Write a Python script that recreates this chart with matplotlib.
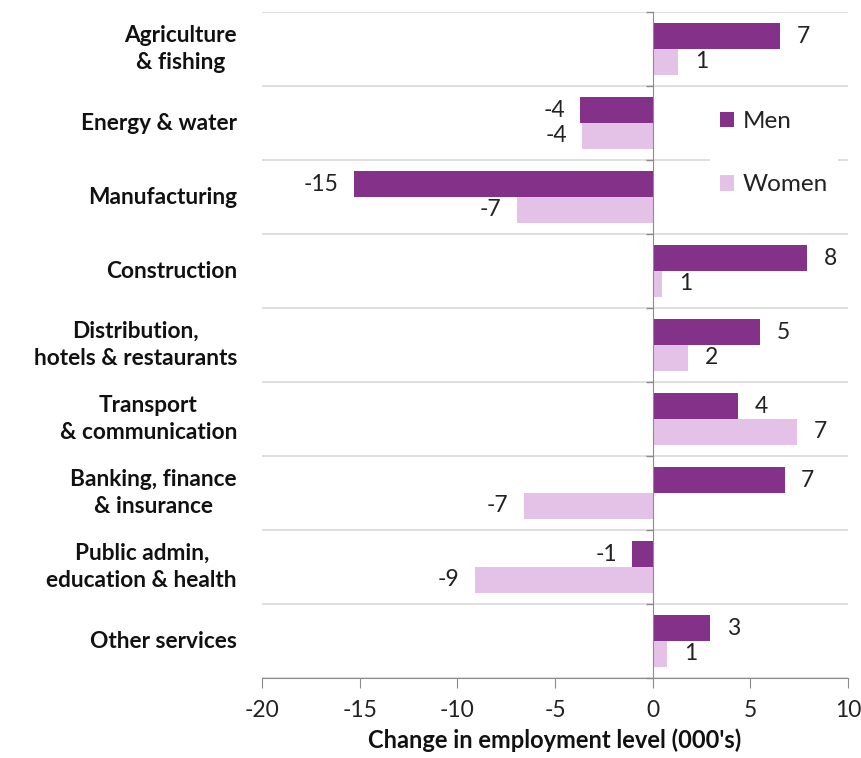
import matplotlib
matplotlib.use("Agg")
import matplotlib.pyplot as plt
import matplotlib.transforms as mtransforms
import numpy as np

categories = ["Agriculture\n& fishing", "Energy & water", "Manufacturing", "Construction",
              "Distribution,\nhotels & restaurants", "Transport\n& communication",
              "Banking, finance\n& insurance", "Public admin,\neducation & health", "Other services"]
men = [6.5, -3.7, -15.3, 7.9, 5.5, 4.35, 6.75, -1.05, 2.95]
women = [1.3, -3.6, -6.95, 0.5, 1.8, 7.4, -6.6, -9.1, 0.75]
men_labels = ["7", "-4", "-15", "8", "5", "4", "7", "-1", "3"]
women_labels = ["1", "-4", "-7", "1", "2", "7", "-7", "-9", "1"]
xticks = [-20, -15, -10, -5, 0, 5, 10]

MEN_C = "#833189"
WOMEN_C = "#E4C1E7"
GRID_C = "#D9D9D9"
AX_C = "#8C8C8C"
FS = 16.5
FS_CAT = 16.3

plt.rcParams['font.family'] = ['Lato', 'DejaVu Sans']

fig = plt.figure(figsize=(8.61, 7.58), dpi=100)
ax = fig.add_axes([262/861, 1-678/758, (848-262)/861, (678-12)/758])

n = len(categories)
y = np.arange(n)
h = 0.345
ax.barh(y - h/2, men, height=h, color=MEN_C, label="Men", zorder=3)
ax.barh(y + h/2, women, height=h, color=WOMEN_C, label="Women", zorder=3)

def label(yy, vals, labs):
    for yi, v, lab in zip(yy, vals, labs):
        if v >= 0:
            ax.annotate(lab, (v, yi), xytext=(12, 0), textcoords='offset points',
                        ha='left', va='center', fontsize=FS, color='#222222')
        else:
            ax.annotate(lab, (v, yi), xytext=(-11, 0), textcoords='offset points',
                        ha='right', va='center', fontsize=FS, color='#222222')

label(y - h/2, men, men_labels)
label(y + h/2, women, women_labels)

ax.set_xlim(-20, 10)
ax.set_ylim(n - 0.5, -0.5)

bounds = np.arange(-0.5, n, 1.0)
ax.set_yticks(bounds)
ax.set_yticklabels([])
ax.tick_params(axis='y', length=5, color=AX_C, direction='out', width=1)
ax.grid(axis='y', color=GRID_C, linewidth=1.2, zorder=0)
ax.grid(axis='x', visible=False)

ax.spines['left'].set_position(('data', 0))
ax.spines['left'].set_color(AX_C)
ax.spines['left'].set_zorder(4)
ax.spines['right'].set_visible(False)
ax.spines['top'].set_visible(False)
ax.spines['bottom'].set_color(AX_C)

ax.set_xticks(xticks)
ax.set_xticklabels([str(t) for t in xticks], fontsize=FS, color='#222222')
ax.tick_params(axis='x', length=7, color=AX_C, direction='out', pad=9)

trans = mtransforms.blended_transform_factory(ax.transAxes, ax.transData)
for yi, c in zip(y, categories):
    ax.text(-25/586, yi, c, transform=trans, ha='right', va='center', multialignment='center',
            fontsize=FS_CAT, fontweight='bold', color='#111111', linespacing=1.4)

ax.set_xlabel("Change in employment level (000's)", fontsize=17, fontweight='bold',
              color='#111111', labelpad=5)

leg = ax.legend(loc='upper left', bbox_to_anchor=(698/586 - 262/586, 1 - (89-12)/666),
                frameon=True, fontsize=17.5, handlelength=0.6, handleheight=0.6,
                labelspacing=1.75, handletextpad=0.35, borderpad=0.4)
leg.get_frame().set_edgecolor('none')
leg.get_frame().set_facecolor('white')
leg.get_frame().set_alpha(1)
for t in leg.get_texts():
    t.set_color('#222222')

fig.savefig("out.png", dpi=100)
